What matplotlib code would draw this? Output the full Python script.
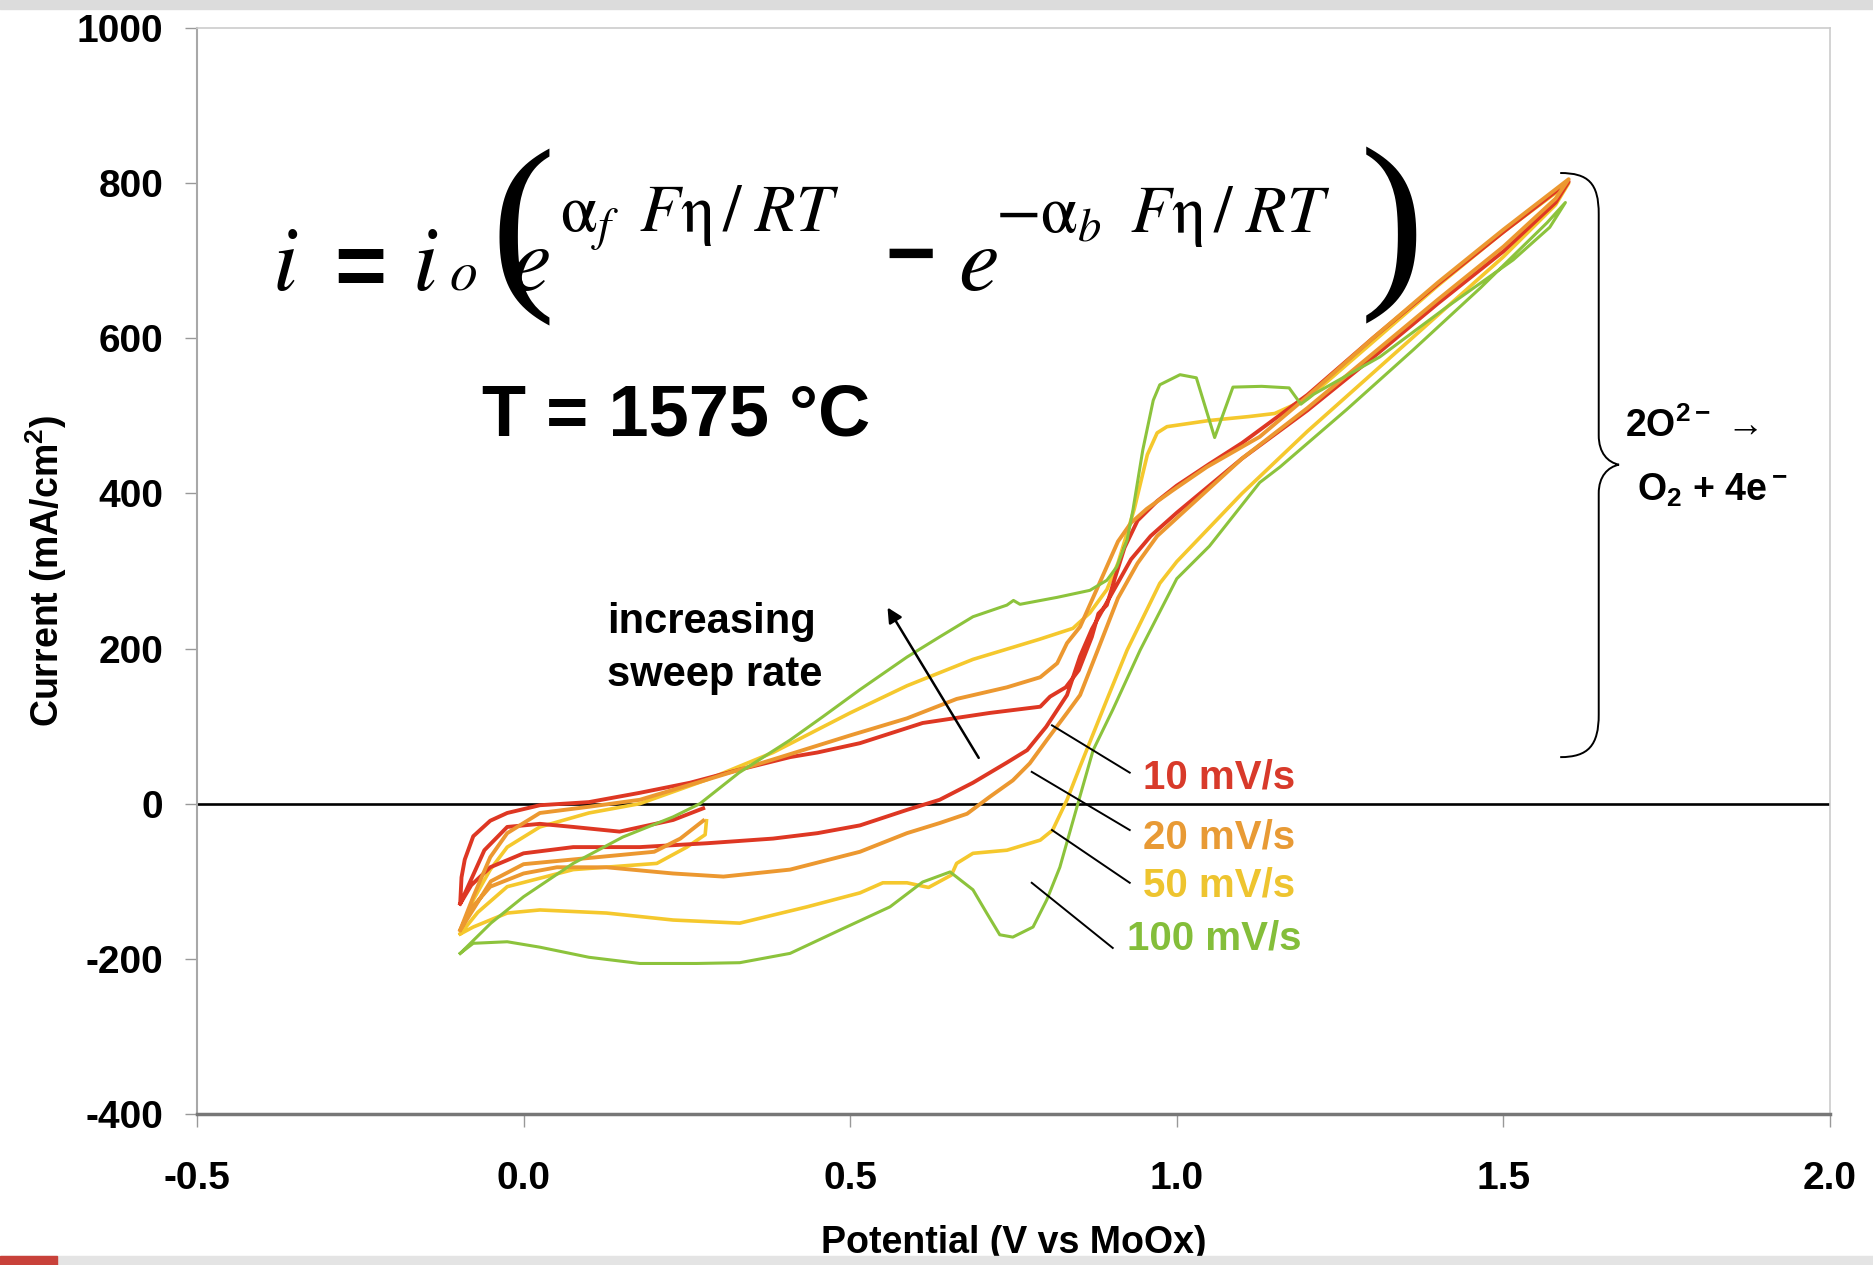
import numpy as np
import matplotlib.pyplot as plt
from matplotlib.path import Path
from matplotlib.patches import PathPatch, Rectangle

plt.rcParams['font.family'] = ['Liberation Sans', 'DejaVu Sans']
plt.rcParams['axes.unicode_minus'] = False
plt.rcParams['mathtext.fontset'] = 'custom'
plt.rcParams['mathtext.rm'] = 'Liberation Sans:bold'
plt.rcParams['mathtext.it'] = 'Liberation Sans:italic:bold'
plt.rcParams['mathtext.bf'] = 'Liberation Sans:bold'

# ---- CV traces: [potential V, current mA/cm2] ----
# 10 mV/s : start at OCP -> negative vertex -> forward -> reverse
cv_10 = np.array([
    [0.275, -6], [0.229, -21], [0.147, -36], [0.076, -30], [0.025, -26], [-0.025, -30],
    [-0.06, -60], [-0.097, -129],
    [-0.095, -95], [-0.09, -72], [-0.077, -42], [-0.051, -22], [-0.025, -12], [0.025, -2],
    [0.10, 2], [0.178, 14], [0.255, 27], [0.331, 44], [0.408, 60], [0.45, 66], [0.515, 78],
    [0.611, 104], [0.714, 117], [0.791, 125], [0.806, 138], [0.83, 150], [0.85, 172],
    [0.87, 215], [0.88, 245], [0.893, 256], [0.905, 290], [0.92, 330], [0.94, 365],
    [0.97, 390], [1.0, 410], [1.05, 438], [1.1, 465], [1.2, 527], [1.3, 600], [1.4, 670],
    [1.5, 737], [1.6, 802],
    [1.58, 775], [1.5, 712], [1.4, 645], [1.3, 575], [1.2, 507], [1.1, 445], [1.0, 375],
    [0.96, 345], [0.93, 315], [0.9, 270], [0.87, 225], [0.852, 190], [0.832, 140],
    [0.80, 99], [0.771, 69], [0.74, 53], [0.688, 27], [0.637, 5], [0.587, -8],
    [0.515, -28], [0.45, -38], [0.382, -45], [0.281, -51], [0.178, -56], [0.076, -56],
    [0.0, -64], [-0.051, -82], [-0.08, -105], [-0.097, -129]])

# 20 mV/s
cv_20 = np.array([
    [0.275, -22], [0.24, -45], [0.2, -62], [0.1, -70], [0.0, -78], [-0.05, -100],
    [-0.097, -163],
    [-0.077, -120], [-0.051, -69], [-0.025, -38], [0.025, -12], [0.10, -4], [0.178, 5],
    [0.281, 31], [0.382, 57], [0.5, 88], [0.587, 110], [0.663, 135], [0.74, 150],
    [0.791, 163], [0.817, 181], [0.832, 207], [0.852, 228], [0.87, 262], [0.89, 300],
    [0.91, 338], [0.93, 362], [0.954, 380], [0.994, 404], [1.046, 434], [1.127, 473],
    [1.2, 525], [1.3, 600], [1.4, 672], [1.5, 740], [1.6, 805],
    [1.58, 780], [1.5, 718], [1.4, 650], [1.3, 580], [1.2, 510], [1.1, 445], [1.005, 372],
    [0.97, 345], [0.94, 310], [0.91, 265], [0.88, 200], [0.852, 140], [0.832, 117],
    [0.801, 82], [0.775, 52], [0.749, 30], [0.714, 9], [0.679, -13], [0.637, -25],
    [0.587, -38], [0.515, -62], [0.408, -85], [0.306, -94], [0.229, -90], [0.127, -82],
    [0.051, -82], [0.0, -90], [-0.051, -107], [-0.08, -135], [-0.097, -163]])

# 50 mV/s
cv_50 = np.array([
    [0.28, -22], [0.278, -40], [0.25, -56], [0.204, -77], [0.076, -85], [-0.025, -107],
    [-0.07, -140], [-0.097, -168],
    [-0.077, -124], [-0.051, -85], [-0.025, -56], [0.025, -30], [0.10, -12], [0.178, 0],
    [0.281, 31], [0.382, 66], [0.5, 117], [0.587, 152], [0.688, 186], [0.79, 212],
    [0.841, 226], [0.867, 246], [0.893, 276], [0.91, 310], [0.935, 380], [0.955, 450],
    [0.97, 478], [0.985, 486], [1.05, 494], [1.11, 499], [1.15, 503], [1.2, 522],
    [1.3, 595], [1.4, 668], [1.5, 737], [1.6, 800],
    [1.58, 772], [1.5, 705], [1.4, 630], [1.3, 555], [1.2, 480], [1.1, 400], [1.0, 312],
    [0.974, 284], [0.924, 198], [0.893, 134], [0.852, 48], [0.832, 5], [0.81, -34],
    [0.791, -47], [0.74, -60], [0.688, -64], [0.663, -77], [0.655, -92], [0.62, -108],
    [0.587, -102], [0.55, -102], [0.515, -115], [0.434, -133], [0.331, -154],
    [0.229, -150], [0.127, -141], [0.025, -137], [-0.025, -141], [-0.077, -159],
    [-0.097, -168]])

# 100 mV/s
cv_100 = np.array([
    [-0.097, -193], [-0.05, -154], [0.0, -120], [0.076, -77], [0.152, -43], [0.229, -17],
    [0.27, 0], [0.33, 40], [0.408, 82], [0.458, 112], [0.515, 147], [0.587, 189],
    [0.637, 215], [0.688, 241], [0.74, 256], [0.75, 262], [0.76, 257], [0.817, 266],
    [0.867, 275], [0.893, 288], [0.908, 305], [0.924, 340], [0.933, 379], [0.948, 456],
    [0.964, 520], [0.974, 540], [1.005, 553], [1.03, 549], [1.058, 472], [1.086, 537],
    [1.13, 538], [1.172, 536], [1.19, 515], [1.21, 528], [1.311, 576], [1.413, 640],
    [1.515, 701], [1.571, 743], [1.595, 775],
    [1.567, 749], [1.465, 665], [1.362, 585], [1.26, 508], [1.158, 434], [1.127, 414],
    [1.05, 332], [1.0, 290], [0.944, 198], [0.902, 121], [0.872, 69], [0.852, 10],
    [0.821, -82], [0.801, -124], [0.78, -159], [0.749, -172], [0.729, -169],
    [0.709, -141], [0.688, -111], [0.653, -88], [0.611, -101], [0.561, -133],
    [0.484, -163], [0.408, -193], [0.331, -205], [0.265, -206], [0.178, -206],
    [0.10, -198], [0.025, -185], [-0.025, -178], [-0.077, -180], [-0.097, -193]])

rate_labels = ['10 mV/s', '20 mV/s', '50 mV/s', '100 mV/s']
line_colors = ['#DE3723', '#EC9830', '#F5C82D', '#8CC33C']
text_colors = ['#D83A2A', '#E89A35', '#EEC42F', '#84BE3A']

x_ticks = [-0.5, 0.0, 0.5, 1.0, 1.5, 2.0]
y_ticks = [-400, -200, 0, 200, 400, 600, 800, 1000]

W, H = 1874, 1265
fig = plt.figure(figsize=(W / 100, H / 100), dpi=100)
ax = fig.add_axes([0.1051, 0.1194, 0.8714, 0.8585])

# draw order: yellow, red, orange, green
for tr, c, lw in [(cv_50, line_colors[2], 2.6), (cv_10, line_colors[0], 2.8),
                  (cv_20, line_colors[1], 2.8), (cv_100, line_colors[3], 2.2)]:
    ax.plot(tr[:, 0], tr[:, 1], color=c, lw=lw, solid_joinstyle='round', zorder=3)

ax.axhline(0, color='black', lw=1.9, zorder=2)

ax.set_xlim(-0.5, 2.0)
ax.set_ylim(-400, 1000)
ax.set_xticks(x_ticks)
ax.set_xticklabels([f'{v:.1f}' for v in x_ticks])
ax.set_yticks(y_ticks)
ax.tick_params(axis='both', labelsize=28, color='#999999', length=9, width=1)
ax.tick_params(axis='x', pad=25)
ax.tick_params(axis='y', pad=15)
for lab in ax.get_xticklabels() + ax.get_yticklabels():
    lab.set_fontweight('bold')

for s in ['top', 'right']:
    ax.spines[s].set_color('#cccccc')
    ax.spines[s].set_linewidth(1.2)
ax.spines['left'].set_color('#a8a8a8')
ax.spines['left'].set_linewidth(1.5)
ax.spines['bottom'].set_color('#777777')
ax.spines['bottom'].set_linewidth(2.5)

ax.set_xlabel('Potential (V vs MoOx)', fontsize=27, fontweight='bold', labelpad=20)
ax.set_ylabel('Current (mA/cm$^2$)', fontsize=27, fontweight='bold', labelpad=6)


def put(px, py, s, fs, **kw):
    # place text by pixel position (from top-left) of the figure
    return fig.text(px / W, 1 - py / H, s, fontsize=fs, **kw)


# Butler-Volmer equation, set piece by piece
math = dict(math_fontfamily='stix', ha='left', va='baseline')
put(272, 290, r'$i$', 66, **math)
put(334, 296, '=', 64, fontweight='bold', ha='left', va='baseline')
put(412, 290, r'$i$', 66, **math)
put(449, 290, r'$o$', 40, **math)
put(491, 238, '(', 140, family='Liberation Serif', ha='left', va='center')
put(510, 290, r'$e$', 66, **math)
put(560, 232, r'$\mathrm{\alpha}_{f}\;\;F\mathrm{\eta}\,/\;RT$', 48, **math)
put(911, 260, '−', 62, fontweight='bold', ha='center', va='center')
put(958, 290, r'$e$', 66, **math)
put(995, 232, r'$-\mathrm{\alpha}_{b}\;\;F\mathrm{\eta}\,/\;RT$', 48, **math)
put(1360, 236, ')', 140, family='Liberation Serif', ha='left', va='center')

put(482, 435, 'T = 1575 °C', 52, fontweight='bold', ha='left', va='baseline')

# sweep-rate labels with leader lines
label_pos = [(0.948, 34), (0.948, -44), (0.948, -105), (0.924, -174)]
leaders = [((0.809, 101), (0.928, 40)), ((0.778, 41), (0.928, -34)),
           ((0.809, -34), (0.928, -102)), ((0.778, -102), (0.902, -186))]
for lab, col, (tx, ty), (p0, p1) in zip(rate_labels, text_colors, label_pos, leaders):
    ax.text(tx, ty, lab, color=col, fontsize=29, fontweight='bold', ha='left', va='center')
    ax.plot([p0[0], p1[0]], [p0[1], p1[1]], color='black', lw=1.4, zorder=4)

ax.annotate('', xy=(0.555, 256), xytext=(0.699, 56),
            arrowprops=dict(arrowstyle='-|>', color='black', lw=1.8, mutation_scale=22))
ax.text(0.128, 200, 'increasing\nsweep rate', fontsize=30, fontweight='bold',
        ha='left', va='center', linespacing=1.4)

# curly brace for the oxygen evolution region
xe, xs, xt = 1.587, 1.646, 1.677
brace = Path([(xe, 813), (1.63, 813), (xs, 800), (xs, 760),
              (xs, 475),
              (xs, 452), (1.66, 440), (xt, 437),
              (1.66, 434), (xs, 422), (xs, 400),
              (xs, 115),
              (xs, 75), (1.63, 60), (xe, 60)],
             [Path.MOVETO, Path.CURVE4, Path.CURVE4, Path.CURVE4,
              Path.LINETO,
              Path.CURVE4, Path.CURVE4, Path.CURVE4,
              Path.CURVE4, Path.CURVE4, Path.CURVE4,
              Path.LINETO,
              Path.CURVE4, Path.CURVE4, Path.CURVE4])
ax.add_patch(PathPatch(brace, fill=False, lw=1.4, color='black'))
ax.text(1.686, 486, '2O$^{2-}$ →', fontsize=27, fontweight='bold', ha='left', va='center')
ax.text(1.704, 404, 'O$_2$ + 4e$^-$', fontsize=27, fontweight='bold', ha='left', va='center')

# thin grey bands at top and bottom edges
fig.add_artist(Rectangle((0, 1 - 9 / H), 1, 9 / H, transform=fig.transFigure,
                         color='#dcdcdc', zorder=10))
fig.add_artist(Rectangle((0, 0), 1, 9 / H, transform=fig.transFigure,
                         color='#e4e4e4', zorder=10))
fig.add_artist(Rectangle((0, 0), 57 / W, 9 / H, transform=fig.transFigure,
                         color='#c8413a', zorder=11))

fig.savefig('out.png', dpi=100)
